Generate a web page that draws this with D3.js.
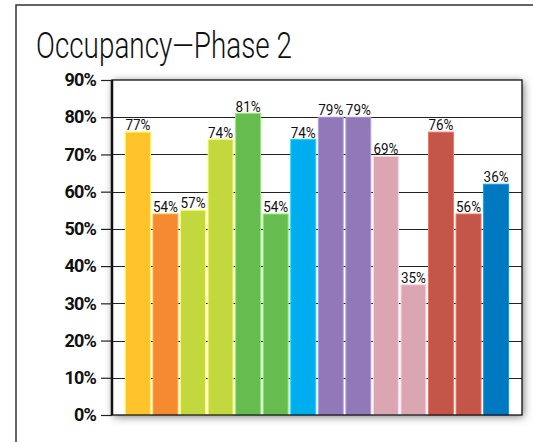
<!DOCTYPE html>
<html>
<head>
<meta charset="utf-8">
<script src="https://cdn.jsdelivr.net/npm/d3@7"></script>
<style>
  html, body { margin: 0; padding: 0; background: #fff; }
  svg { display: block; }
</style>
</head>
<body>
<script>
// ---- data ----
const categories = ["B1","B2","B3","B4","B5","B6","B7","B8","B9","B10","B11","B12","B13","B14"];
const values = [76, 54, 55, 74, 81, 54, 74, 80, 80, 69.5, 35, 76, 54, 62];
const labels = ["77%","54%","57%","74%","81%","54%","74%","79%","79%","69%","35%","76%","56%","36%"];
const colors = ["#FEC22A","#F58A31","#C3D83F","#C3D83F","#66BC4E","#66BC4E","#00AEEF",
                "#9079B6","#9079B6","#D9A6B1","#D9A6B1","#C35648","#C35648","#0079C1"];
const yTicks = [0,10,20,30,40,50,60,70,80,90];
const title = "Occupancy\u2014Phase 2";

const W = 533, H = 442;
const plot = {left: 112, right: 522, top: 80, bottom: 415};

const svg = d3.select("body").append("svg").attr("width", W).attr("height", H);

const defs = svg.append("defs");
const f = defs.append("filter").attr("id","shadow")
  .attr("x","-10%").attr("y","-10%").attr("width","120%").attr("height","120%");
f.append("feDropShadow").attr("dx",1.5).attr("dy",1.5).attr("stdDeviation",4)
  .attr("flood-color","#000").attr("flood-opacity",0.55);

// outer frame
svg.append("rect").attr("x",16).attr("y",5).attr("width",W).attr("height",H)
  .attr("fill","none").attr("stroke","#333").attr("stroke-width",1.5);

// title
svg.append("text").attr("x",36).attr("y",58)
  .attr("font-family","Roboto, 'Liberation Sans', sans-serif")
  .attr("font-weight",300).attr("font-size",37).attr("fill","#111")
  .attr("textLength",256).attr("lengthAdjust","spacingAndGlyphs")
  .text(title);

const x = d3.scaleBand().domain(categories).range([plot.left, plot.right])
  .paddingInner(0.06).paddingOuter(0.47);
const y = d3.scaleLinear().domain([0,90]).range([plot.bottom, plot.top]);

// plot background with shadow
svg.append("rect").attr("x",plot.left).attr("y",plot.top)
  .attr("width",plot.right-plot.left).attr("height",plot.bottom-plot.top)
  .attr("fill","#fff").attr("filter","url(#shadow)");

// gridlines
svg.append("g").selectAll("line").data(yTicks.slice(1,-1)).join("line")
  .attr("x1",plot.left).attr("x2",plot.right)
  .attr("y1",d=>Math.round(y(d))+0.5).attr("y2",d=>Math.round(y(d))+0.5)
  .attr("stroke","#222").attr("stroke-width",1);

// bars
svg.append("g").selectAll("rect").data(values).join("rect")
  .attr("x",(d,i)=>x(categories[i])+0.5)
  .attr("width",x.bandwidth()-1)
  .attr("y",d=>y(d))
  .attr("height",d=>plot.bottom-y(d))
  .attr("fill",(d,i)=>colors[i])
  .attr("stroke",(d,i)=>d3.color(colors[i]).brighter(0.7))
  .attr("stroke-width",1);

// value labels
svg.append("g").selectAll("text").data(values).join("text")
  .attr("x",(d,i)=>x(categories[i])+x.bandwidth()/2)
  .attr("y",d=>y(d)-2)
  .attr("text-anchor","middle")
  .attr("font-family","Roboto, 'Liberation Sans', sans-serif")
  .attr("font-size",15).attr("fill","#111")
  .attr("textLength",25).attr("lengthAdjust","spacingAndGlyphs")
  .text((d,i)=>labels[i]);

// frame
svg.append("rect").attr("x",plot.left).attr("y",plot.top)
  .attr("width",plot.right-plot.left).attr("height",plot.bottom-plot.top)
  .attr("fill","none").attr("stroke","#111").attr("stroke-width",1.3);
svg.append("line").attr("x1",plot.left).attr("x2",plot.left)
  .attr("y1",plot.top).attr("y2",plot.bottom)
  .attr("stroke","#111").attr("stroke-width",2.5);

// y axis
const yAxis = d3.axisLeft(y).tickValues(yTicks).tickSize(11).tickPadding(5)
  .tickFormat(d=>d+"%");
const ga = svg.append("g").attr("transform",`translate(${plot.left},0)`).call(yAxis);
ga.select(".domain").remove();
ga.selectAll(".tick line").attr("stroke","#222").attr("stroke-width",1.2);
ga.selectAll(".tick text")
  .attr("font-family","Roboto, 'Liberation Sans', sans-serif")
  .attr("font-weight",700).attr("font-size",18).attr("fill","#111")
  .attr("letter-spacing",-0.8);
</script>
</body>
</html>
